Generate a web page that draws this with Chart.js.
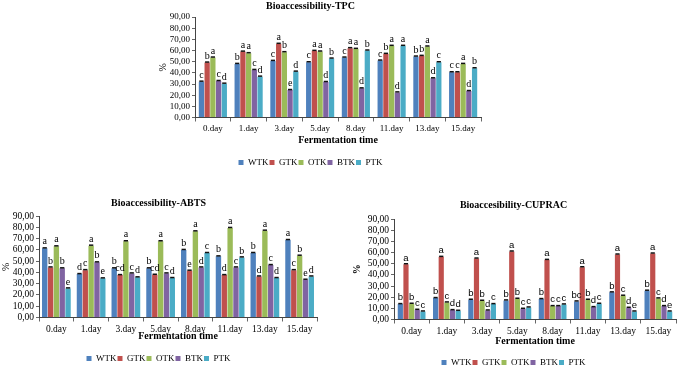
<!DOCTYPE html>
<html><head><meta charset="utf-8">
<script src="https://cdn.jsdelivr.net/npm/chart.js@4.4.1/dist/chart.umd.min.js"></script>
<style>
html,body{margin:0;padding:0;background:#fff;width:677px;height:366px;overflow:hidden;position:relative;}
.box{position:absolute;}
</style></head><body>
<div class="box" style="left:140px;top:0px;width:356px;height:177px"><canvas id="c1"></canvas></div>
<div class="box" style="left:0px;top:190px;width:330px;height:183px"><canvas id="c2"></canvas></div>
<div class="box" style="left:351px;top:190px;width:326px;height:187px"><canvas id="c3"></canvas></div>
<script>
const days = ['0.day','1.day','3.day','5.day','8.day','11.day','13.day','15.day'];
const seriesNames = ['WTK','GTK','OTK','BTK','PTK'];
const seriesColors = ['#4F81BD','#C0504D','#9BBB59','#8064A2','#4BACC6'];

// TPC
const tpcWTK = [32.1, 48.0, 50.7, 49.5, 53.7, 51.0, 54.6, 40.5];
const tpcGTK = [49.2, 59.0, 66.0, 59.7, 62.1, 57.0, 55.2, 40.5];
const tpcOTK = [53.7, 57.6, 58.5, 59.1, 61.5, 64.2, 63.6, 48.0];
const tpcBTK = [32.7, 42.6, 24.6, 31.8, 26.1, 22.5, 35.1, 23.7];
const tpcPTK = [30.3, 36.6, 41.1, 52.8, 60.0, 64.2, 49.5, 44.1];
const tpcLetWTK = ['c','b','c','c','c','c','b','c'];
const tpcLetGTK = ['b','a','a','a','a','b','b','c'];
const tpcLetOTK = ['a','a','b','a','a','a','a','a'];
const tpcLetBTK = ['c','c','e','d','d','d','d','d'];
const tpcLetPTK = ['d','d','d','b','b','a','c','b'];

// ABTS
const abtsWTK = [61.3, 38.5, 43.6, 43.6, 59.9, 54.2, 57.2, 68.7];
const abtsGTK = [44.4, 42.0, 37.6, 37.9, 41.5, 37.6, 36.4, 42.0];
const abtsOTK = [63.1, 63.7, 67.6, 67.6, 76.4, 79.4, 77.0, 54.8];
const abtsBTK = [43.6, 48.9, 39.1, 39.1, 44.4, 44.4, 46.5, 33.5];
const abtsPTK = [25.8, 34.7, 35.6, 35.0, 57.2, 53.3, 35.0, 36.4];
const abtsLetWTK = ['a','d','b','b','b','b','b','a'];
const abtsLetGTK = ['b','c','cd','cd','e','d','d','c'];
const abtsLetOTK = ['a','a','a','a','a','a','a','b'];
const abtsLetBTK = ['b','b','c','c','d','c','c','e'];
const abtsLetPTK = ['e','e','d','d','c','b','d','d'];

// CUPRAC
const cupWTK = [13.8, 19.2, 17.7, 17.1, 18.3, 16.2, 24.3, 25.8];
const cupGTK = [49.5, 56.1, 54.6, 60.9, 53.4, 46.8, 58.2, 59.1];
const cupOTK = [14.1, 15.3, 16.8, 18.6, 12.0, 17.7, 21.3, 18.9];
const cupBTK = [8.7, 8.4, 8.1, 9.6, 12.0, 11.1, 10.5, 12.0];
const cupPTK = [7.2, 7.8, 13.8, 10.8, 13.5, 14.1, 7.2, 7.2];
const cupLetWTK = ['b','b','b','b','b','bc','b','b'];
const cupLetGTK = ['a','a','a','a','a','a','a','a'];
const cupLetOTK = ['b','c','b','b','c','b','c','c'];
const cupLetBTK = ['c','d','d','c','c','d','d','d'];
const cupLetPTK = ['c','d','c','c','c','c','e','e'];

const yTickMin = 0, yTickMax = 90, yTickStep = 10;
const xTitle = 'Fermentation time';
const yTitle = '%';

const SERIF = "'Liberation Serif', 'Times New Roman', serif";

const annot = {
  id: 'annot',
  afterDatasetsDraw(chart, args, opts) {
    const ctx = chart.ctx;
    chart.data.datasets.forEach((ds, i) => {
      const meta = chart.getDatasetMeta(i);
      meta.data.forEach((bar, j) => {
        const w = bar.width;
        ctx.save();
        ctx.strokeStyle = '#111';
        ctx.lineWidth = 1.5;
        ctx.beginPath();
        ctx.moveTo(bar.x - w * 0.4, bar.y - 0.5);
        ctx.lineTo(bar.x + w * 0.4, bar.y - 0.5);
        ctx.stroke();
        ctx.fillStyle = '#000';
        ctx.font = opts.font;
        ctx.textAlign = 'center';
        ctx.textBaseline = 'bottom';
        ctx.fillText(ds.letters[j], bar.x, bar.y - 1.5);
        ctx.restore();
      });
    });
  }
};

function makeChart(id, cfg) {
  const datasets = cfg.values.map((v, i) => ({
    label: seriesNames[i],
    data: v,
    letters: cfg.letters[i],
    backgroundColor: seriesColors[i],
    borderWidth: 0,
    categoryPercentage: cfg.cp,
    barPercentage: 0.92
  }));
  return new Chart(document.getElementById(id), {
    type: 'bar',
    data: { labels: days, datasets },
    plugins: [annot],
    options: {
      responsive: true,
      maintainAspectRatio: false,
      animation: false,
      layout: { padding: { left: 0, right: cfg.padRight, top: 0, bottom: 0 } },
      plugins: {
        tooltip: { enabled: false },
        annot: { font: cfg.letterFont },
        title: {
          display: true, text: cfg.title, color: '#000',
          font: { family: SERIF, weight: 'bold', size: 10 },
          padding: { top: cfg.titleTop, bottom: cfg.titleBottom }
        },
        legend: {
          position: 'bottom',
          labels: {
            color: '#000', boxWidth: 5, boxHeight: 5, padding: 1,
            font: { family: SERIF, size: 9 }
          }
        }
      },
      scales: {
        x: {
          grid: { offset: true, drawOnChartArea: false, color: '#666', tickLength: 4 },
          border: { color: '#444', width: 1 },
          ticks: { color: '#000', padding: 2, maxRotation: 0, autoSkip: false, font: { family: SERIF, size: cfg.tickSize } },
          title: { display: true, text: xTitle, color: '#000', font: { family: SERIF, weight: 'bold', size: 10 }, padding: { top: 0, bottom: cfg.xTitleBottom } },
          afterFit(s) { s.height = cfg.xHeight; }
        },
        y: {
          min: yTickMin, max: yTickMax,
          grid: { drawOnChartArea: false, color: '#666', tickLength: 3 },
          border: { color: '#444', width: 1 },
          ticks: {
            stepSize: yTickStep, color: '#000', padding: 2, autoSkip: false,
            font: { family: SERIF, size: cfg.tickSize },
            callback: v => v.toFixed(2).replace('.', ',')
          },
          title: { display: true, text: yTitle, color: '#000', font: { family: SERIF, weight: cfg.yTitleWeight, size: 10 }, padding: { top: cfg.yTitleTop, bottom: 0 } },
          afterFit(s) { s.width = cfg.yWidth; }
        }
      }
    }
  });
}

makeChart('c1', {
  title: 'Bioaccessibility-TPC',
  values: [tpcWTK, tpcGTK, tpcOTK, tpcBTK, tpcPTK],
  letters: [tpcLetWTK, tpcLetGTK, tpcLetOTK, tpcLetBTK, tpcLetPTK],
  cp: 0.8, padRight: 15, titleTop: 0, titleBottom: 5, xHeight: 39.5, xTitleBottom: 10.5,
  yWidth: 55, yTitleTop: 17, tickSize: 9, yTitleWeight: 'normal',
  letterFont: "10px 'Liberation Serif', serif"
});
makeChart('c2', {
  title: 'Bioaccessibility-ABTS',
  values: [abtsWTK, abtsGTK, abtsOTK, abtsBTK, abtsPTK],
  letters: [abtsLetWTK, abtsLetGTK, abtsLetOTK, abtsLetBTK, abtsLetPTK],
  cp: 0.84, padRight: 13, titleTop: 7, titleBottom: 7, xHeight: 35.5, xTitleBottom: 11,
  yWidth: 39, yTitleTop: 0, tickSize: 9.5, yTitleWeight: 'normal',
  letterFont: "10px 'Liberation Serif', serif"
});
makeChart('c3', {
  title: 'Bioaccesibility-CUPRAC',
  values: [cupWTK, cupGTK, cupOTK, cupBTK, cupPTK],
  letters: [cupLetWTK, cupLetGTK, cupLetOTK, cupLetBTK, cupLetPTK],
  cp: 0.8, padRight: 1, titleTop: 9, titleBottom: 8, xHeight: 37.5, xTitleBottom: 9.5,
  yWidth: 43, yTitleTop: 0, tickSize: 9.5, yTitleWeight: 'bold',
  letterFont: "9.5px 'Liberation Sans', Arial, sans-serif"
});
</script>
</body></html>
